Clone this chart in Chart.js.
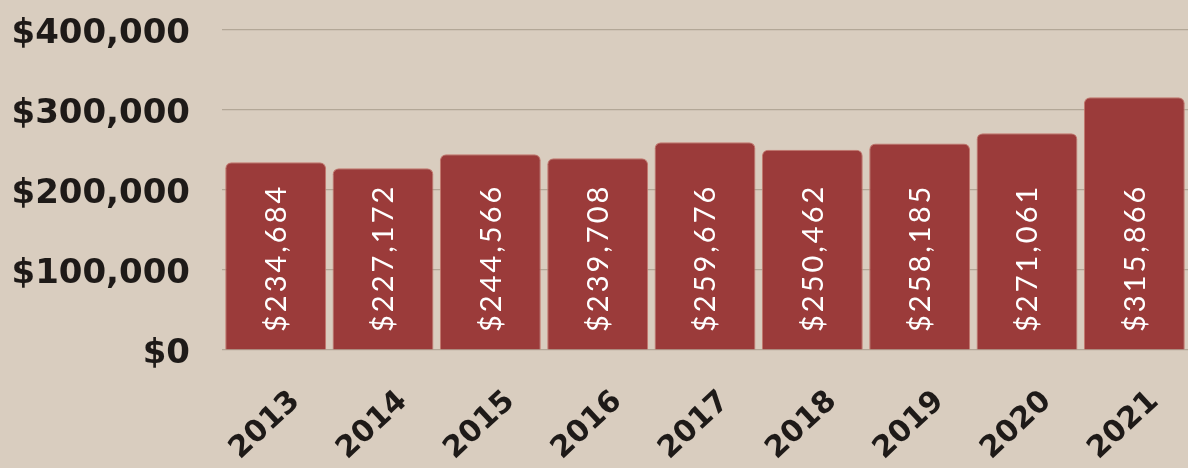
<!DOCTYPE html>
<html>
<head>
<meta charset="utf-8">
<script src="https://cdn.jsdelivr.net/npm/chart.js@4"></script>
<style>
  html, body { margin: 0; padding: 0; background: #d9cdbf; }
  #wrap { width: 1188px; height: 468px; }
</style>
</head>
<body>
<div id="wrap"><canvas id="priceChart"></canvas></div>
<script>
var years = ["2013", "2014", "2015", "2016", "2017", "2018", "2019", "2020", "2021"];
var prices = [234684, 227172, 244566, 239708, 259676, 250462, 258185, 271061, 315866];
var yTicks = [0, 100000, 200000, 300000, 400000];

function money(v) {
    return "$" + v.toLocaleString("en-US");
}

// white vertical value labels inside each bar
var barLabels = {
    id: "barLabels",
    afterDatasetsDraw: function (chart) {
        var ctx = chart.ctx;
        var bottom = chart.scales.y.getPixelForValue(0);
        chart.getDatasetMeta(0).data.forEach(function (bar, i) {
            ctx.save();
            ctx.translate(bar.x, bottom - 18);
            ctx.rotate(-Math.PI / 2);
            ctx.fillStyle = "#ffffff";
            ctx.font = "400 29px Lato, sans-serif";
            ctx.letterSpacing = "3px";
            ctx.textAlign = "left";
            ctx.textBaseline = "middle";
            ctx.fillText(money(prices[i]), 0, 1);
            ctx.restore();
        });
    }
};

var ctx = document.getElementById("priceChart");
var priceChart = new Chart(ctx, {
    type: "bar",
    data: {
        labels: years,
        datasets: [{
            data: prices,
            backgroundColor: "#9b3b3a",
            borderColor: "#c4776d",
            borderWidth: { top: 1, left: 1, right: 1, bottom: 0 },
            borderRadius: { topLeft: 6, topRight: 6 },
            borderSkipped: "bottom",
            categoryPercentage: 0.94,
            barPercentage: 1
        }]
    },
    options: {
        responsive: true,
        maintainAspectRatio: false,
        animation: false,
        layout: { padding: 0 },
        plugins: {
            legend: { display: false },
            tooltip: { enabled: false }
        },
        scales: {
            x: {
                grid: { display: false },
                border: { display: false },
                afterFit: function (scale) { scale.height = 118; },
                ticks: {
                    color: "#1e1a18",
                    font: { family: "'DejaVu Sans'", weight: "bold", size: 30 },
                    minRotation: 43,
                    maxRotation: 43,
                    labelOffset: 20,
                    padding: 26
                }
            },
            y: {
                min: 0,
                max: 400000,
                afterFit: function (scale) {
                    scale.width = 222;
                    scale.paddingTop = 30;
                    scale.paddingBottom = 0;
                },
                afterBuildTicks: function (scale) {
                    scale.ticks = yTicks.map(function (v) { return { value: v }; });
                },
                grid: { color: "#b3a797", lineWidth: 1.2, drawTicks: false },
                border: { display: false },
                ticks: {
                    color: "#1e1a18",
                    font: { family: "'DejaVu Sans'", weight: "bold", size: 34 },
                    padding: 32,
                    labelOffset: 4,
                    callback: function (v) { return money(v); }
                }
            }
        }
    },
    plugins: [barLabels]
});
</script>
</body>
</html>
